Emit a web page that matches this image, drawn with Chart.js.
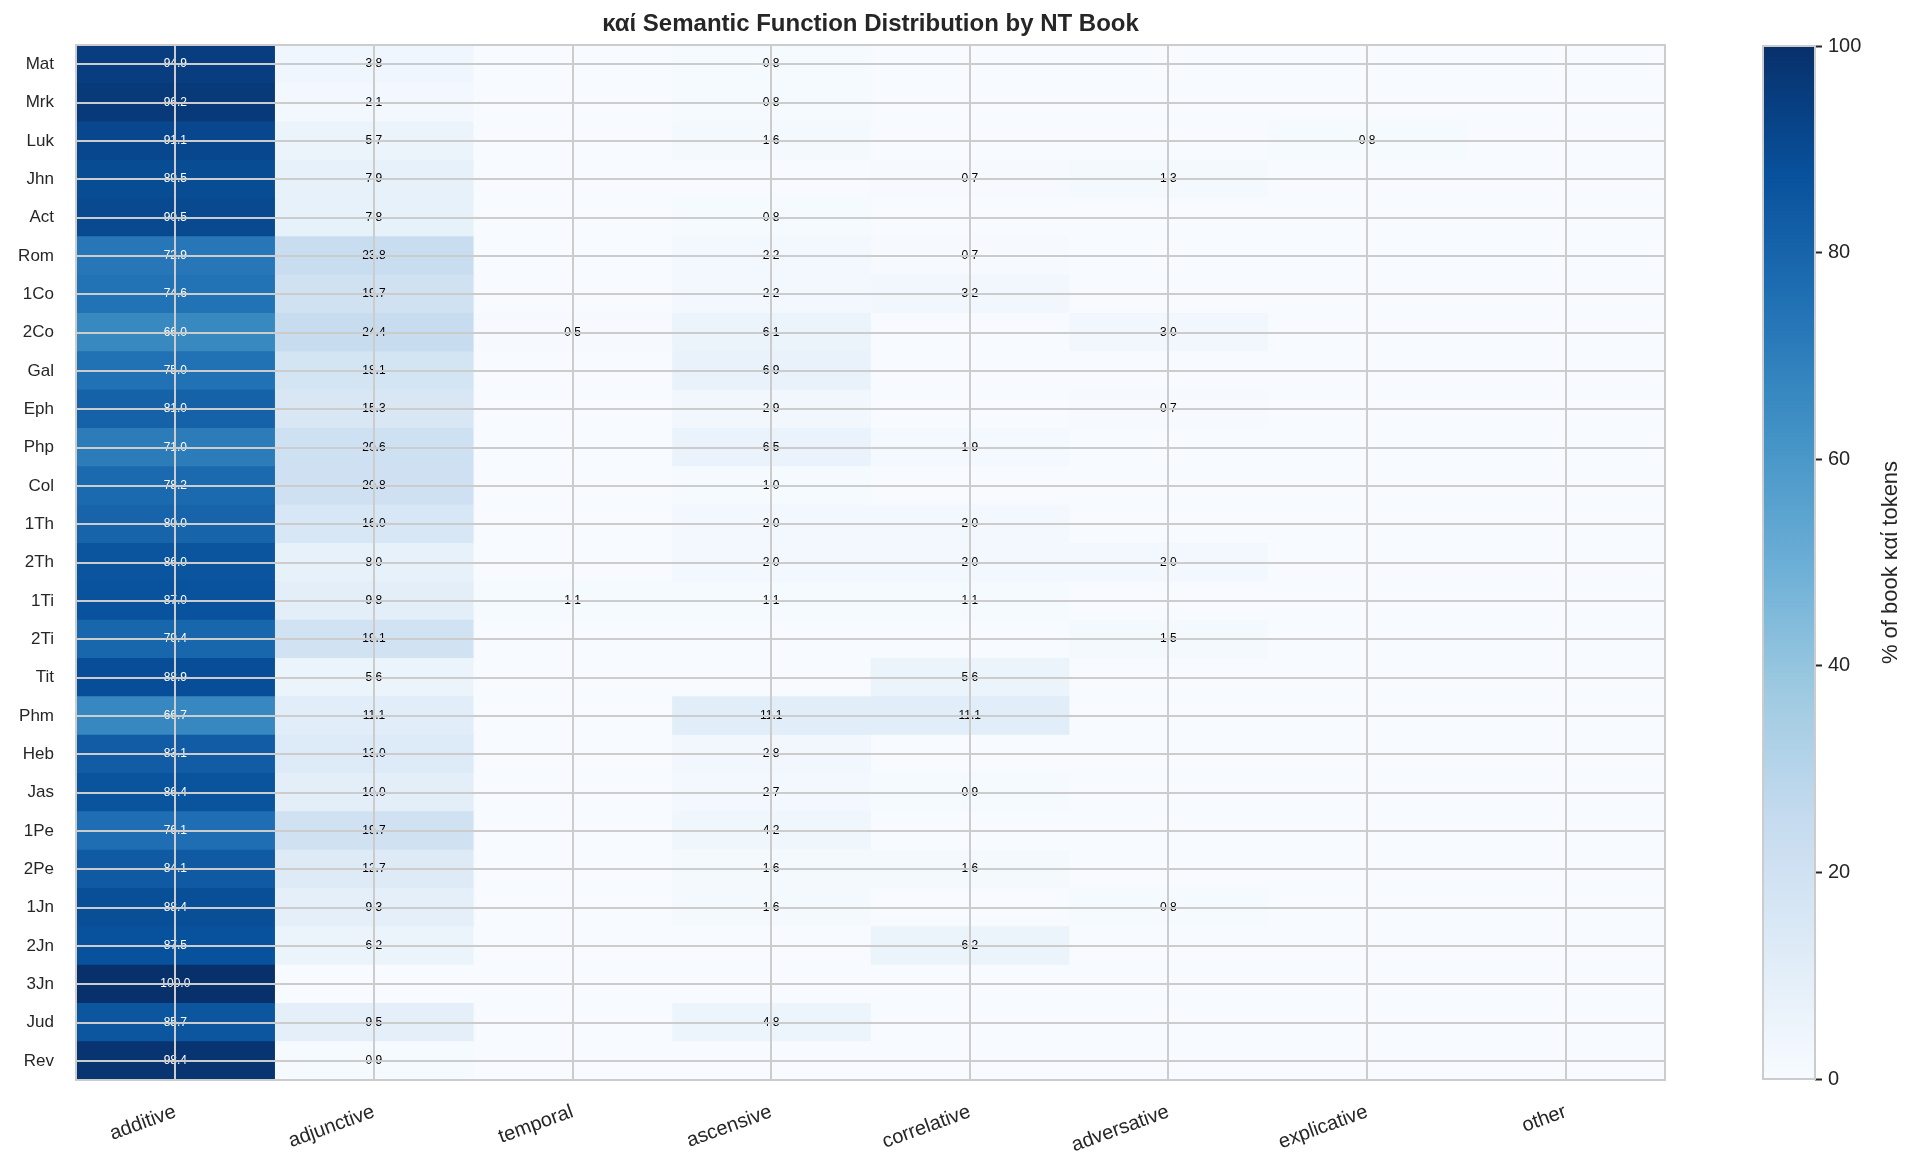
<!DOCTYPE html>
<html><head><meta charset="utf-8">
<script src="https://cdn.jsdelivr.net/npm/chart.js@4.4.1/dist/chart.umd.min.js"></script>
<style>
html,body{margin:0;padding:0;background:#fff;width:1919px;height:1173px;overflow:hidden}
#main{position:absolute;left:0;top:0}
#cb{position:absolute;left:1700px;top:0}
</style></head>
<body>
<canvas id="main" width="1919" height="1173"></canvas>
<canvas id="cb" width="219" height="1173"></canvas>
<script>
const titleText = 'καί Semantic Function Distribution by NT Book';
const colorbarLabel = '% of book καί tokens';
const books = ['Mat','Mrk','Luk','Jhn','Act','Rom','1Co','2Co','Gal','Eph','Php','Col','1Th','2Th','1Ti','2Ti','Tit','Phm','Heb','Jas','1Pe','2Pe','1Jn','2Jn','3Jn','Jud','Rev'];
const functions = ['additive','adjunctive','temporal','ascensive','correlative','adversative','explicative','other'];
const additive    = [94.9,96.2,91.1,89.5,90.5,72.9,74.6,66.0,75.0,81.0,71.0,78.2,80.0,86.0,87.0,79.4,88.9,66.7,83.1,86.4,76.1,84.1,88.4,87.5,100.0,85.7,98.4];
const adjunctive  = [3.8,2.1,5.7,7.9,7.8,23.8,19.7,24.4,18.1,15.3,20.6,20.8,16.0,8.0,9.8,19.1,5.6,11.1,13.0,10.0,19.7,12.7,9.3,6.2,0,9.5,0.9];
const temporal    = [0,0,0,0,0,0,0,0.5,0,0,0,0,0,0,1.1,0,0,0,0,0,0,0,0,0,0,0,0];
const ascensive   = [0.8,0.8,1.6,0,0.8,2.2,2.2,6.1,6.9,2.9,6.5,1.0,2.0,2.0,1.1,0,0,11.1,2.8,2.7,4.2,1.6,1.6,0,0,4.8,0];
const correlative = [0,0,0,0.7,0,0.7,3.2,0,0,0,1.9,0,2.0,2.0,1.1,0,5.6,11.1,0,0.9,0,1.6,0,6.2,0,0,0];
const adversative = [0,0,0,1.3,0,0,0,3.0,0,0.7,0,0,0,2.0,0,1.5,0,0,0,0,0,0,0.8,0,0,0,0];
const explicative = [0,0,0.8,0,0,0,0,0,0,0,0,0,0,0,0,0,0,0,0,0,0,0,0,0,0,0,0];
const other       = [0,0,0,0,0,0,0,0,0,0,0,0,0,0,0,0,0,0,0,0,0,0,0,0,0,0,0];
const colorbarTicks = [0,20,40,60,80,100];

const columns = [additive, adjunctive, temporal, ascensive, correlative, adversative, explicative, other];

const FONT = '"Liberation Sans", Arial, Helvetica, sans-serif';
Chart.defaults.font.family = FONT;

const bluesStops = ['#f7fbff','#deebf7','#c6dbef','#9ecae1','#6baed6','#4292c6','#2171b5','#08519c','#08306b'];
function hex2rgb(h){return [parseInt(h.slice(1,3),16),parseInt(h.slice(3,5),16),parseInt(h.slice(5,7),16)];}
const bluesRGB = bluesStops.map(hex2rgb);
function blues(t){
  t = Math.max(0, Math.min(1, t));
  const n = bluesRGB.length - 1;
  const p = t * n; const i = Math.min(n - 1, Math.floor(p)); const f = p - i;
  const a = bluesRGB[i], b = bluesRGB[i+1];
  return 'rgb(' + a.map((v,k)=>Math.round(v + (b[k]-v)*f)).join(',') + ')';
}

const annotPlugin = {
  id: 'annot',
  afterDatasetsDraw(chart){
    const {ctx, scales:{x, y}} = chart;
    ctx.save();
    ctx.font = '12px ' + FONT;
    ctx.textAlign = 'center';
    ctx.textBaseline = 'middle';
    columns.forEach((col, c) => col.forEach((v, r) => {
      if (v > 0) {
        ctx.fillStyle = v > 50 ? '#ffffff' : '#000000';
        ctx.fillText(v.toFixed(1), x.getPixelForValue(c + 0.5), y.getPixelForValue(r));
      }
    }));
    ctx.restore();
  }
};
const framePlugin = {
  id: 'frame',
  afterDraw(chart){
    const {ctx, chartArea: ca} = chart;
    ctx.save();
    ctx.strokeStyle = '#cccccc'; ctx.lineWidth = 2;
    ctx.strokeRect(ca.left, ca.top, ca.right - ca.left, ca.bottom - ca.top);
    ctx.fillStyle = '#262626';
    ctx.font = 'bold 24px ' + FONT;
    ctx.textAlign = 'center'; ctx.textBaseline = 'middle';
    ctx.fillText(titleText, (ca.left + ca.right) / 2, 24);
    ctx.restore();
  }
};

new Chart(document.getElementById('main'), {
  type: 'bar',
  data: {
    labels: books,
    datasets: functions.map((f, c) => ({
      label: f,
      data: books.map(() => [c, c + 1]),
      backgroundColor: columns[c].map(v => blues(v / 100)),
      grouped: false, barPercentage: 1, categoryPercentage: 1, borderWidth: 0
    }))
  },
  options: {
    indexAxis: 'y', responsive: false, animation: false,
    layout: { padding: { top: 45, right: 254, left: 0, bottom: 0 } },
    plugins: { legend: { display: false }, tooltip: { enabled: false }, title: { display: false } },
    scales: {
      x: {
        type: 'linear', min: 0, max: 8, z: 1, position: 'bottom',
        afterBuildTicks: s => { s.ticks = functions.map((_, i) => ({ value: i + 0.5 })); },
        ticks: { callback: (v, i) => functions[i], minRotation: 20, maxRotation: 20, font: { size: 20 }, color: '#262626', padding: 20, autoSkip: false },
        grid: { color: '#cccccc', lineWidth: 2, drawTicks: false, z: 1 },
        border: { display: false },
        afterFit: s => { s.height = 93; }
      },
      y: {
        type: 'category', offset: true, z: 1,
        ticks: { font: { size: 17 }, color: '#262626', padding: 22, autoSkip: false },
        grid: { color: '#cccccc', lineWidth: 2, offset: false, drawTicks: false, z: 1 },
        border: { display: false },
        afterFit: s => { s.width = 76; }
      }
    }
  },
  plugins: [annotPlugin, framePlugin]
});

const cbPlugin = {
  id: 'cbframe',
  afterDraw(chart){
    const {ctx, chartArea: ca} = chart;
    ctx.save();
    ctx.strokeStyle = '#cccccc'; ctx.lineWidth = 2;
    ctx.strokeRect(ca.left, ca.top, ca.right - ca.left, ca.bottom - ca.top);
    ctx.translate(191, (ca.top + ca.bottom) / 2);
    ctx.rotate(-Math.PI / 2);
    ctx.fillStyle = '#262626';
    ctx.font = '22px ' + FONT;
    ctx.textAlign = 'center'; ctx.textBaseline = 'middle';
    ctx.fillText(colorbarLabel, 0, 0);
    ctx.restore();
  }
};

new Chart(document.getElementById('cb'), {
  type: 'bar',
  data: {
    labels: ['scale'],
    datasets: [{
      data: [[colorbarTicks[0], colorbarTicks[colorbarTicks.length - 1]]],
      backgroundColor: (context) => {
        const ca = context.chart.chartArea;
        if (!ca) return blues(0.5);
        const g = context.chart.ctx.createLinearGradient(0, ca.bottom, 0, ca.top);
        bluesStops.forEach((s, i) => g.addColorStop(i / (bluesStops.length - 1), s));
        return g;
      },
      barPercentage: 1, categoryPercentage: 1, borderWidth: 0
    }]
  },
  options: {
    responsive: false, animation: false,
    layout: { padding: { left: 63, top: 46, bottom: 94, right: 0 } },
    plugins: { legend: { display: false }, tooltip: { enabled: false } },
    scales: {
      x: { display: false },
      y: {
        position: 'right', min: 0, max: 100,
        afterBuildTicks: s => { s.ticks = colorbarTicks.map(v => ({ value: v })); },
        ticks: { font: { size: 20 }, color: '#262626', padding: 6 },
        grid: { drawOnChartArea: false, drawTicks: true, tickLength: 7, tickColor: '#262626', tickWidth: 2 },
        border: { display: false },
        afterFit: s => { s.width = 104; }
      }
    }
  },
  plugins: [cbPlugin]
});
</script>
</body></html>
